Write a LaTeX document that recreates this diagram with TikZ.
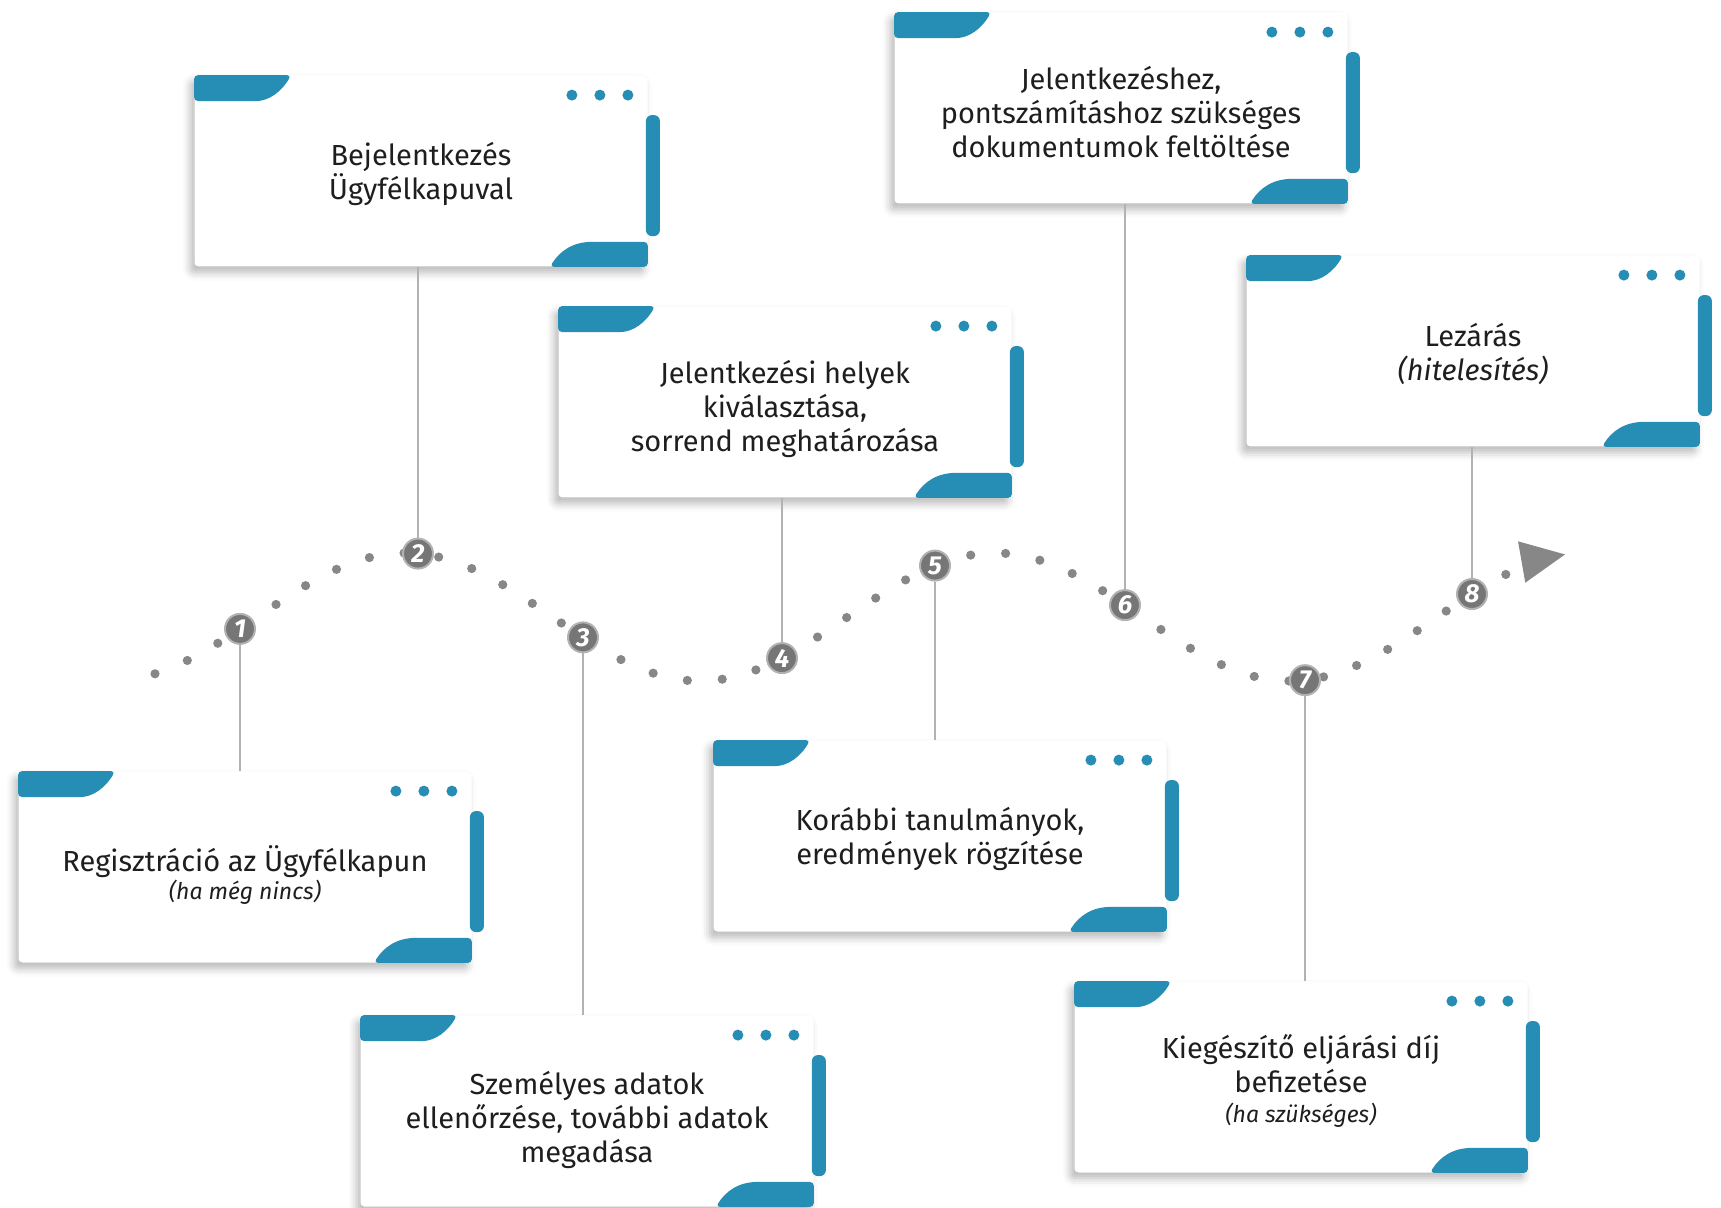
\documentclass[tikz,border=0pt]{standalone}
\usepackage{fontspec}
\setmainfont{Fira Sans}
\usepackage{tikz}
\usetikzlibrary{arrows.meta,shadows.blur}

\definecolor{tealblue}{RGB}{38,141,180}
\definecolor{dotgray}{RGB}{135,135,135}
\definecolor{linegray}{RGB}{178,178,178}
\definecolor{numgray}{RGB}{118,118,118}
\definecolor{ink}{RGB}{30,30,30}

% teal tabs, side bar and three dots of a card
\newcommand{\cardtrim}[1]{%
  \begin{scope}[shift={(#1.north west)}]
    \fill[tealblue,rounded corners=2pt] (0,0) -- (97,0) .. controls (88,16) and (75,26) .. (58,26) -- (0,26) -- cycle;
  \end{scope}
  \begin{scope}[shift={(#1.north east)}]
    \fill[tealblue] (-76,20) circle (2.75pt) (-48,20) circle (2.75pt) (-20,20) circle (2.75pt);
    \fill[tealblue,rounded corners=3pt] (-2,40) rectangle (12,161);
  \end{scope}
  \begin{scope}[shift={(#1.south east)}]
    \fill[tealblue,rounded corners=2pt] (0,0) -- (-98,0) .. controls (-88,-16) and (-75,-25) .. (-52,-25) -- (0,-25) -- cycle;
  \end{scope}}
\newcommand{\smallit}[1]{{\fontsize{11.5}{13}\selectfont\itshape #1}}
\newcommand{\topgap}[1]{\rule{0pt}{#1}}

\begin{document}
\begin{tikzpicture}[x=0.5pt,y=-0.5pt,
		card node/.style={fill=white,rounded corners=2pt,minimum width=226.5pt,minimum height=95.5pt,inner sep=0pt,
			align=center,text=ink,font=\fontsize{14.5}{17}\selectfont,
			blur shadow={shadow xshift=-2pt,shadow yshift=-3pt,shadow blur radius=4pt,shadow opacity=28}},
		num node/.style={circle,fill=numgray,draw=linegray,line width=1pt,minimum size=15pt,inner sep=0pt,
			text=white,font=\fontsize{13}{13}\selectfont\bfseries\itshape},
		wave line/.style={dotgray,line width=4.6pt,line cap=round,dash pattern=on 0pt off 17.5pt,
			-{Triangle[length=22pt,width=21pt,line width=0pt]}},
		link line/.style={linegray,line width=1pt}]
		\useasboundingbox (0,0) rectangle (1721,1208);
		
		% wave
		\draw[wave line] plot[domain=155:1565,samples=160] (\x,{617-64*cos(0.6102*(\x-405))});
		
		% cards
		\node[card node] (c1) at (245,867) {\topgap{20.5pt}Regisztráció az Ügyfélkapun\\[-3pt]\smallit{(ha még nincs)}};
		\node[card node] (c2) at (421,171) {\topgap{14.5pt}Bejelentkezés\\Ügyfélkapuval};
		\node[card node] (c3) at (587,1111) {\topgap{21pt}Személyes adatok\\ellenőrzése, további adatok\\megadása};
		\node[card node] (c4) at (785,402) {\topgap{19pt}Jelentkezési helyek\\kiválasztása,\\sorrend meghatározása};
		\node[card node] (c5) at (940,836) {\topgap{14.5pt}Korábbi tanulmányok,\\eredmények rögzítése};
		\node[card node] (c6) at (1121,108) {\topgap{16pt}Jelentkezéshez,\\pontszámításhoz szükséges\\dokumentumok feltöltése};
		\node[card node] (c7) at (1301,1077) {\topgap{16pt}Kiegészítő eljárási díj\\befizetése\\[-2pt]\smallit{(ha szükséges)}};
		\node[card node] (c8) at (1473,351) {\topgap{14.5pt}Lezárás\\\textit{(hitelesítés)}};
		\foreach \k in {c1,c2,c3,c4,c5,c6,c7,c8} {\cardtrim{\k}}
		
		% numbers on the wave
		\node[num node] (n1) at (240,628.9) {1};
		\node[num node] (n2) at (418,553.6) {2};
		\node[num node] (n3) at (583,637.4) {3};
		\node[num node] (n4) at (782,658.1) {4};
		\node[num node] (n5) at (935,565.6) {5};
		\node[num node] (n6) at (1125,605.1) {6};
		\node[num node] (n7) at (1305,680.2) {7};
		\node[num node] (n8) at (1472,594.0) {8};
		
		% links
		\draw[link line] (n1) -- (n1 |- c1.north);
		\draw[link line] (n2) -- (n2 |- c2.south);
		\draw[link line] (n3) -- (n3 |- c3.north);
		\draw[link line] (n4) -- (n4 |- c4.south);
		\draw[link line] (n5) -- (n5 |- c5.north);
		\draw[link line] (n6) -- (n6 |- c6.south);
		\draw[link line] (n7) -- (n7 |- c7.north);
		\draw[link line] (n8) -- (n8 |- c8.south);
\end{tikzpicture}
\end{document}
